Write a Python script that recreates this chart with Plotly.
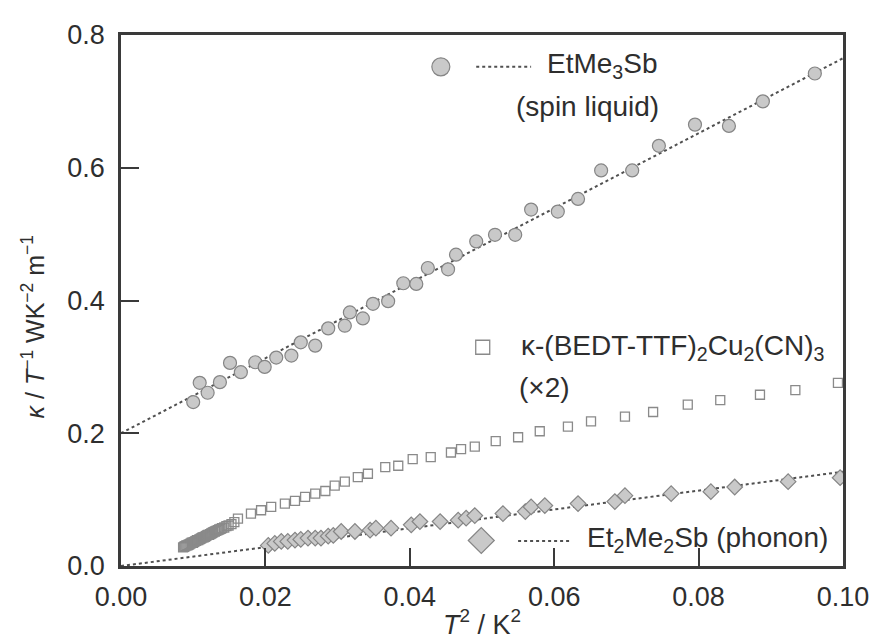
import plotly.graph_objects as go

# ---------------- data ----------------
spin_x = [0.0100, 0.0109, 0.0120, 0.0137, 0.0151, 0.0166, 0.0186, 0.0199, 0.0215, 0.0236,
          0.0249, 0.0269, 0.0287, 0.0310, 0.0317, 0.0335, 0.0349, 0.0370, 0.0391, 0.0409,
          0.0425, 0.0453, 0.0464, 0.0492, 0.0518, 0.0546, 0.0568, 0.0605, 0.0633, 0.0665,
          0.0708, 0.0745, 0.0795, 0.0842, 0.0889, 0.0961]
spin_y = [0.247, 0.276, 0.261, 0.277, 0.306, 0.292, 0.307, 0.300, 0.314, 0.317,
          0.337, 0.332, 0.358, 0.362, 0.382, 0.373, 0.395, 0.399, 0.426, 0.425,
          0.449, 0.447, 0.469, 0.489, 0.499, 0.499, 0.537, 0.534, 0.553, 0.596,
          0.596, 0.633, 0.665, 0.663, 0.700, 0.742]

cn_x = [0.0086, 0.00875, 0.0089, 0.00905, 0.0092, 0.00935, 0.0095, 0.00965, 0.0098, 0.00995,
        0.0101, 0.01025, 0.0104, 0.01055, 0.0107, 0.01085, 0.0110, 0.01115, 0.0113, 0.01145,
        0.0116, 0.01175, 0.0119, 0.01205, 0.0122, 0.01235, 0.0125, 0.01265, 0.0128, 0.0130,
        0.0132, 0.0134, 0.0136, 0.0138, 0.0140, 0.0143, 0.0146, 0.0149, 0.0153, 0.0157,
        0.0162, 0.0180, 0.0194, 0.0208, 0.0227, 0.0241, 0.0255, 0.0269, 0.0283, 0.0296,
        0.0310, 0.0328, 0.0342, 0.0366, 0.0384, 0.0404, 0.0429, 0.0457, 0.0471, 0.0490,
        0.0519, 0.0550, 0.0580, 0.0619, 0.0651, 0.0698, 0.0737, 0.0785, 0.0830, 0.0885,
        0.0934, 0.0993]
cn_y = [0.028, 0.029, 0.030, 0.031, 0.031, 0.032, 0.033, 0.034, 0.035, 0.035,
        0.036, 0.037, 0.038, 0.039, 0.039, 0.040, 0.041, 0.042, 0.043, 0.043,
        0.044, 0.045, 0.046, 0.047, 0.047, 0.048, 0.049, 0.050, 0.051, 0.052,
        0.053, 0.054, 0.055, 0.056, 0.057, 0.058, 0.060, 0.061, 0.063, 0.066,
        0.0715, 0.079, 0.084, 0.089, 0.094, 0.098, 0.104, 0.109, 0.113, 0.121,
        0.127, 0.134, 0.139, 0.149, 0.151, 0.161, 0.164, 0.171, 0.176, 0.180,
        0.188, 0.194, 0.203, 0.210, 0.218, 0.225, 0.232, 0.243, 0.250, 0.258,
        0.265, 0.276]

ph_x = [0.0204, 0.0213, 0.0222, 0.0231, 0.0241, 0.0249, 0.0259, 0.0269, 0.0277, 0.0287,
        0.0294, 0.0305, 0.0324, 0.0345, 0.0353, 0.0374, 0.0402, 0.0414, 0.0442, 0.0467,
        0.0478, 0.0490, 0.0529, 0.0560, 0.0568, 0.0587, 0.0633, 0.0684, 0.0698, 0.0762,
        0.0817, 0.0850, 0.0924, 0.0996]
ph_y = [0.031, 0.034, 0.037, 0.037, 0.039, 0.040, 0.042, 0.042, 0.042, 0.045,
        0.046, 0.052, 0.052, 0.054, 0.057, 0.057, 0.062, 0.067, 0.067, 0.069,
        0.072, 0.076, 0.079, 0.082, 0.089, 0.091, 0.094, 0.097, 0.106, 0.109,
        0.112, 0.119, 0.127, 0.133]

fit_x = [0.0, 0.1]
spin_fit_y = [0.200, 0.765]
ph_fit_y = [0.000, 0.142]

x_ticks = [0.00, 0.02, 0.04, 0.06, 0.08, 0.10]
x_ticktext = ["0.00", "0.02", "0.04", "0.06", "0.08", "0.10"]
y_ticks = [0.0, 0.2, 0.4, 0.6, 0.8]
y_ticktext = ["0.0", "0.2", "0.4", "0.6", "0.8"]

# ---------------- styles ----------------
FONT = "Liberation Sans, Arial, Helvetica, sans-serif"
FILL = "#c9c9c9"
EDGE = "#858585"
LINE = "#505050"
TXT = "#2e2e2e"

fig = go.Figure()

fig.add_trace(go.Scatter(x=fit_x, y=spin_fit_y, mode="lines",
                         line=dict(color=LINE, width=2, dash="dot"), hoverinfo="skip"))
fig.add_trace(go.Scatter(x=fit_x, y=ph_fit_y, mode="lines",
                         line=dict(color=LINE, width=2, dash="dot"), hoverinfo="skip"))

fig.add_trace(go.Scatter(x=cn_x, y=cn_y, mode="markers",
                         marker=dict(symbol="square-open", size=9, color="#8a8a8a",
                                     line=dict(width=1.3, color="#8a8a8a"))))
fig.add_trace(go.Scatter(x=ph_x, y=ph_y, mode="markers",
                         marker=dict(symbol="diamond", size=12, color=FILL,
                                     line=dict(width=1.2, color=EDGE))))
fig.add_trace(go.Scatter(x=spin_x, y=spin_y, mode="markers",
                         marker=dict(symbol="circle", size=13, color=FILL,
                                     line=dict(width=1.2, color=EDGE))))

axis_common = dict(showgrid=False, zeroline=False, showline=True, linecolor="#3a3a3a",
                   linewidth=2.5, mirror=True, ticks="inside", ticklen=18, tickwidth=2,
                   tickcolor="#3a3a3a", tickfont=dict(family=FONT, size=27, color=TXT))

fig.update_xaxes(range=[0, 0.1], tickvals=x_ticks, ticktext=x_ticktext,
                 ticklabelstandoff=5,
                 title=dict(text="<i>T</i><sup>2</sup> / K<sup>2</sup>",
                            font=dict(family=FONT, size=27, color=TXT), standoff=4),
                 **axis_common)
fig.update_yaxes(range=[0, 0.8], tickvals=y_ticks, ticktext=y_ticktext,
                 ticklabelstandoff=8, **axis_common)

# ---------------- legend (drawn by hand, in paper coordinates) ----------------
shapes = [
    dict(type="circle", xref="paper", yref="paper", xsizemode="pixel", ysizemode="pixel",
         xanchor=0.443, yanchor=0.940, x0=-9, x1=9, y0=-9, y1=9,
         fillcolor=FILL, line=dict(color=EDGE, width=1.2)),
    dict(type="line", xref="paper", yref="paper", x0=0.492, x1=0.568, y0=0.940, y1=0.940,
         line=dict(color=LINE, width=2, dash="dot")),
    dict(type="rect", xref="paper", yref="paper", xsizemode="pixel", ysizemode="pixel",
         xanchor=0.501, yanchor=0.412, x0=-7, x1=7, y0=-7, y1=7,
         fillcolor="white", line=dict(color="#8a8a8a", width=1.3)),
    dict(type="path", xref="paper", yref="paper", xsizemode="pixel", ysizemode="pixel",
         xanchor=0.499, yanchor=0.048, path="M -13 0 L 0 13 L 13 0 L 0 -13 Z",
         fillcolor=FILL, line=dict(color=EDGE, width=1.2)),
    dict(type="line", xref="paper", yref="paper", x0=0.550, x1=0.623, y0=0.047, y1=0.047,
         line=dict(color=LINE, width=2, dash="dot")),
]

ann_font = dict(family=FONT, size=28, color=TXT)
annotations = [
    dict(text="EtMe<sub>3</sub>Sb", x=0.587, y=0.942, xref="paper", yref="paper",
         xanchor="left", yanchor="middle", showarrow=False, font=ann_font),
    dict(text="(spin liquid)", x=0.545, y=0.866, xref="paper", yref="paper",
         xanchor="left", yanchor="middle", showarrow=False, font=ann_font),
    dict(text="κ-(BEDT-TTF)<sub>2</sub>Cu<sub>2</sub>(CN)<sub>3</sub>", x=0.551, y=0.412,
         xref="paper", yref="paper", xanchor="left", yanchor="middle", showarrow=False,
         font=ann_font),
    dict(text="(×2)", x=0.549, y=0.337, xref="paper", yref="paper",
         xanchor="left", yanchor="middle", showarrow=False, font=ann_font),
    dict(text="Et<sub>2</sub>Me<sub>2</sub>Sb (phonon)", x=0.642, y=0.050, xref="paper",
         yref="paper", xanchor="left", yanchor="middle", showarrow=False, font=ann_font),
    dict(text="<i>κ</i> / <i>T</i><sup>−1</sup> WK<sup>−2</sup> m<sup>−1</sup>",
         x=-0.122, y=0.451, xref="paper", yref="paper", xanchor="center", yanchor="middle",
         textangle=-90, showarrow=False, font=dict(family=FONT, size=25, color=TXT)),
]

fig.update_layout(width=879, height=642, margin=dict(l=113, r=44, t=21, b=84),
                  plot_bgcolor="white", paper_bgcolor="white", showlegend=False,
                  font=dict(family=FONT, size=27, color=TXT),
                  shapes=shapes, annotations=annotations)

fig.write_html("out.html")
